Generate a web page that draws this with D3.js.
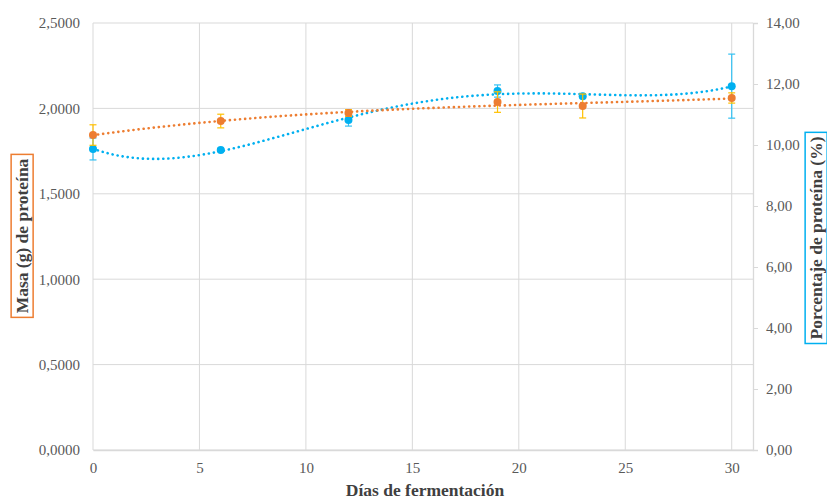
<!DOCTYPE html>
<html>
<head>
<meta charset="utf-8">
<script src="https://cdnjs.cloudflare.com/ajax/libs/d3/7.8.5/d3.min.js"></script>
<style>
  body { margin: 0; background: #fff; }
  text { font-family: "Liberation Serif", "Times New Roman", serif; }
</style>
</head>
<body>
<div id="chart"></div>
<script>
// data
var dias = [0, 6, 12, 19, 23, 30];
var masa = [1.844, 1.926, 1.973, 2.037, 2.014, 2.061];      // g, left axis
var masaErr = [0.06, 0.04, 0.02, 0.06, 0.07, 0.03];
var porcentaje = [9.87, 9.84, 10.82, 11.77, 11.60, 11.93];  // %, right axis
var porcentajeErr = [0.36, 0.05, 0.20, 0.20, 0.05, 1.05];
var xTicks = [0, 5, 10, 15, 20, 25, 30];
var leftTicks = [0, 0.5, 1, 1.5, 2, 2.5];
var rightTicks = [0, 2, 4, 6, 8, 10, 12, 14];

var svgWidth = 827, svgHeight = 500;
var margin = { top: 23, right: 74, bottom: 50, left: 93 };
var width = svgWidth - margin.left - margin.right;
var height = svgHeight - margin.top - margin.bottom;

var svg = d3.select("#chart").append("svg")
  .attr("width", svgWidth)
  .attr("height", svgHeight);

var chartGroup = svg.append("g")
  .attr("transform", `translate(${margin.left}, ${margin.top})`);

var xScale = d3.scaleLinear().domain([0, 31]).range([0, width]);
var yLeft = d3.scaleLinear().domain([0, 2.5]).range([height, 0]);
var yRight = d3.scaleLinear().domain([0, 14]).range([height, 0]);

var comma = function(digits) {
  return function(d) { return d3.format("." + digits + "f")(d).replace(".", ","); };
};

// gridlines
chartGroup.append("g")
  .selectAll("line.h").data(leftTicks).enter().append("line")
  .attr("x1", 0).attr("x2", width)
  .attr("y1", d => yLeft(d)).attr("y2", d => yLeft(d))
  .attr("stroke", "#d9d9d9").attr("stroke-width", 1);
chartGroup.append("g")
  .selectAll("line.v").data(xTicks).enter().append("line")
  .attr("x1", d => xScale(d)).attr("x2", d => xScale(d))
  .attr("y1", 0).attr("y2", height)
  .attr("stroke", "#d9d9d9").attr("stroke-width", 1);

// axes
var xAxis = d3.axisBottom(xScale).tickValues(xTicks).tickSize(0).tickPadding(12);
var leftAxis = d3.axisLeft(yLeft).tickValues(leftTicks).tickSize(0).tickPadding(13).tickFormat(comma(4));
var rightAxis = d3.axisRight(yRight).tickValues(rightTicks).tickSize(5).tickPadding(8).tickFormat(comma(2));

var gx = chartGroup.append("g").attr("transform", `translate(0, ${height})`).call(xAxis);
var gl = chartGroup.append("g").call(leftAxis);
var gr = chartGroup.append("g").attr("transform", `translate(${width}, 0)`).call(rightAxis);

[gx, gl, gr].forEach(function(g) {
  g.attr("font-family", null);
  g.select(".domain").attr("stroke", "#d9d9d9").attr("stroke-width", 1.3);
  g.selectAll(".tick line").attr("stroke", "#d9d9d9");
  g.selectAll(".tick text")
    .attr("fill", "#595959")
    .style("font-size", "15px")
    .style("font-family", "'Liberation Serif', serif");
});
gl.select(".domain").remove();

// polynomial least squares trend line (like the spreadsheet trendline)
function polyFit(xs, ys, order) {
  var n = order + 1;
  var A = [];
  for (var i = 0; i < n; i++) {
    A.push([]);
    for (var j = 0; j <= n; j++) A[i].push(0);
  }
  xs.forEach(function(x, k) {
    for (var i = 0; i < n; i++) {
      for (var j = 0; j < n; j++) A[i][j] += Math.pow(x, i + j);
      A[i][n] += ys[k] * Math.pow(x, i);
    }
  });
  for (var c = 0; c < n; c++) {
    var p = c;
    for (var r = c + 1; r < n; r++) if (Math.abs(A[r][c]) > Math.abs(A[p][c])) p = r;
    var t = A[c]; A[c] = A[p]; A[p] = t;
    for (var r = 0; r < n; r++) {
      if (r === c) continue;
      var f = A[r][c] / A[c][c];
      for (var j = c; j <= n; j++) A[r][j] -= f * A[c][j];
    }
  }
  var coef = A.map((row, i) => row[n] / row[i]);
  return function(x) { return coef.reduce((s, a, i) => s + a * Math.pow(x, i), 0); };
}

function drawSeries(values, errs, fitOrder, yScale, color, errColor) {
  var fit = polyFit(dias, values, fitOrder);
  var xs = d3.range(0, 30.01, 0.25);
  var line = d3.line().x(d => xScale(d)).y(d => yScale(fit(d)));
  chartGroup.append("path")
    .datum(xs)
    .attr("d", line)
    .attr("fill", "none")
    .attr("stroke", color)
    .attr("stroke-width", 2.6)
    .attr("stroke-linecap", "round")
    .attr("stroke-dasharray", "0.1 5");

  var pts = dias.map((d, i) => ({ x: d, y: values[i], e: errs[i] }));
  var eb = chartGroup.append("g");
  eb.selectAll("line.bar").data(pts).enter().append("line")
    .attr("x1", d => xScale(d.x)).attr("x2", d => xScale(d.x))
    .attr("y1", d => yScale(d.y - d.e)).attr("y2", d => yScale(d.y + d.e))
    .attr("stroke", errColor).attr("stroke-width", 1.2);
  [1, -1].forEach(function(s) {
    eb.selectAll("line.cap" + s).data(pts).enter().append("line")
      .attr("x1", d => xScale(d.x) - 3.5).attr("x2", d => xScale(d.x) + 3.5)
      .attr("y1", d => yScale(d.y + s * d.e)).attr("y2", d => yScale(d.y + s * d.e))
      .attr("stroke", errColor).attr("stroke-width", 1.2);
  });

  chartGroup.append("g").selectAll("circle").data(pts).enter().append("circle")
    .attr("cx", d => xScale(d.x))
    .attr("cy", d => yScale(d.y))
    .attr("r", 4)
    .attr("fill", color);
}

drawSeries(porcentaje, porcentajeErr, 4, yRight, "#00b0f0", "#33c1f3");
drawSeries(masa, masaErr, 3, yLeft, "#ed7d31", "#ffc000");

// axis titles
svg.append("text")
  .attr("x", margin.left + width / 2 + 2)
  .attr("y", 496)
  .attr("text-anchor", "middle")
  .style("font-size", "17.5px")
  .style("font-weight", "bold")
  .attr("fill", "#404040")
  .text("Días de fermentación");

function boxedTitle(cx, cy, label, color) {
  var g = svg.append("g").attr("transform", `translate(${cx}, ${cy}) rotate(-90)`);
  var t = g.append("text")
    .attr("text-anchor", "middle")
    .attr("dy", "0.35em")
    .style("font-size", "17.5px")
    .style("font-weight", "bold")
    .attr("fill", "#404040")
    .text(label);
  var bb = t.node().getBBox();
  g.insert("rect", "text")
    .attr("x", bb.x - 4).attr("y", bb.y - 1)
    .attr("width", bb.width + 8).attr("height", bb.height + 2)
    .attr("fill", "none")
    .attr("stroke", color)
    .attr("stroke-width", 1.5);
}
boxedTitle(22, 236, "Masa (g) de proteína", "#ed7d31");
boxedTitle(816, 238, "Porcentaje de proteína (%)", "#00b0f0");
</script>
</body>
</html>
